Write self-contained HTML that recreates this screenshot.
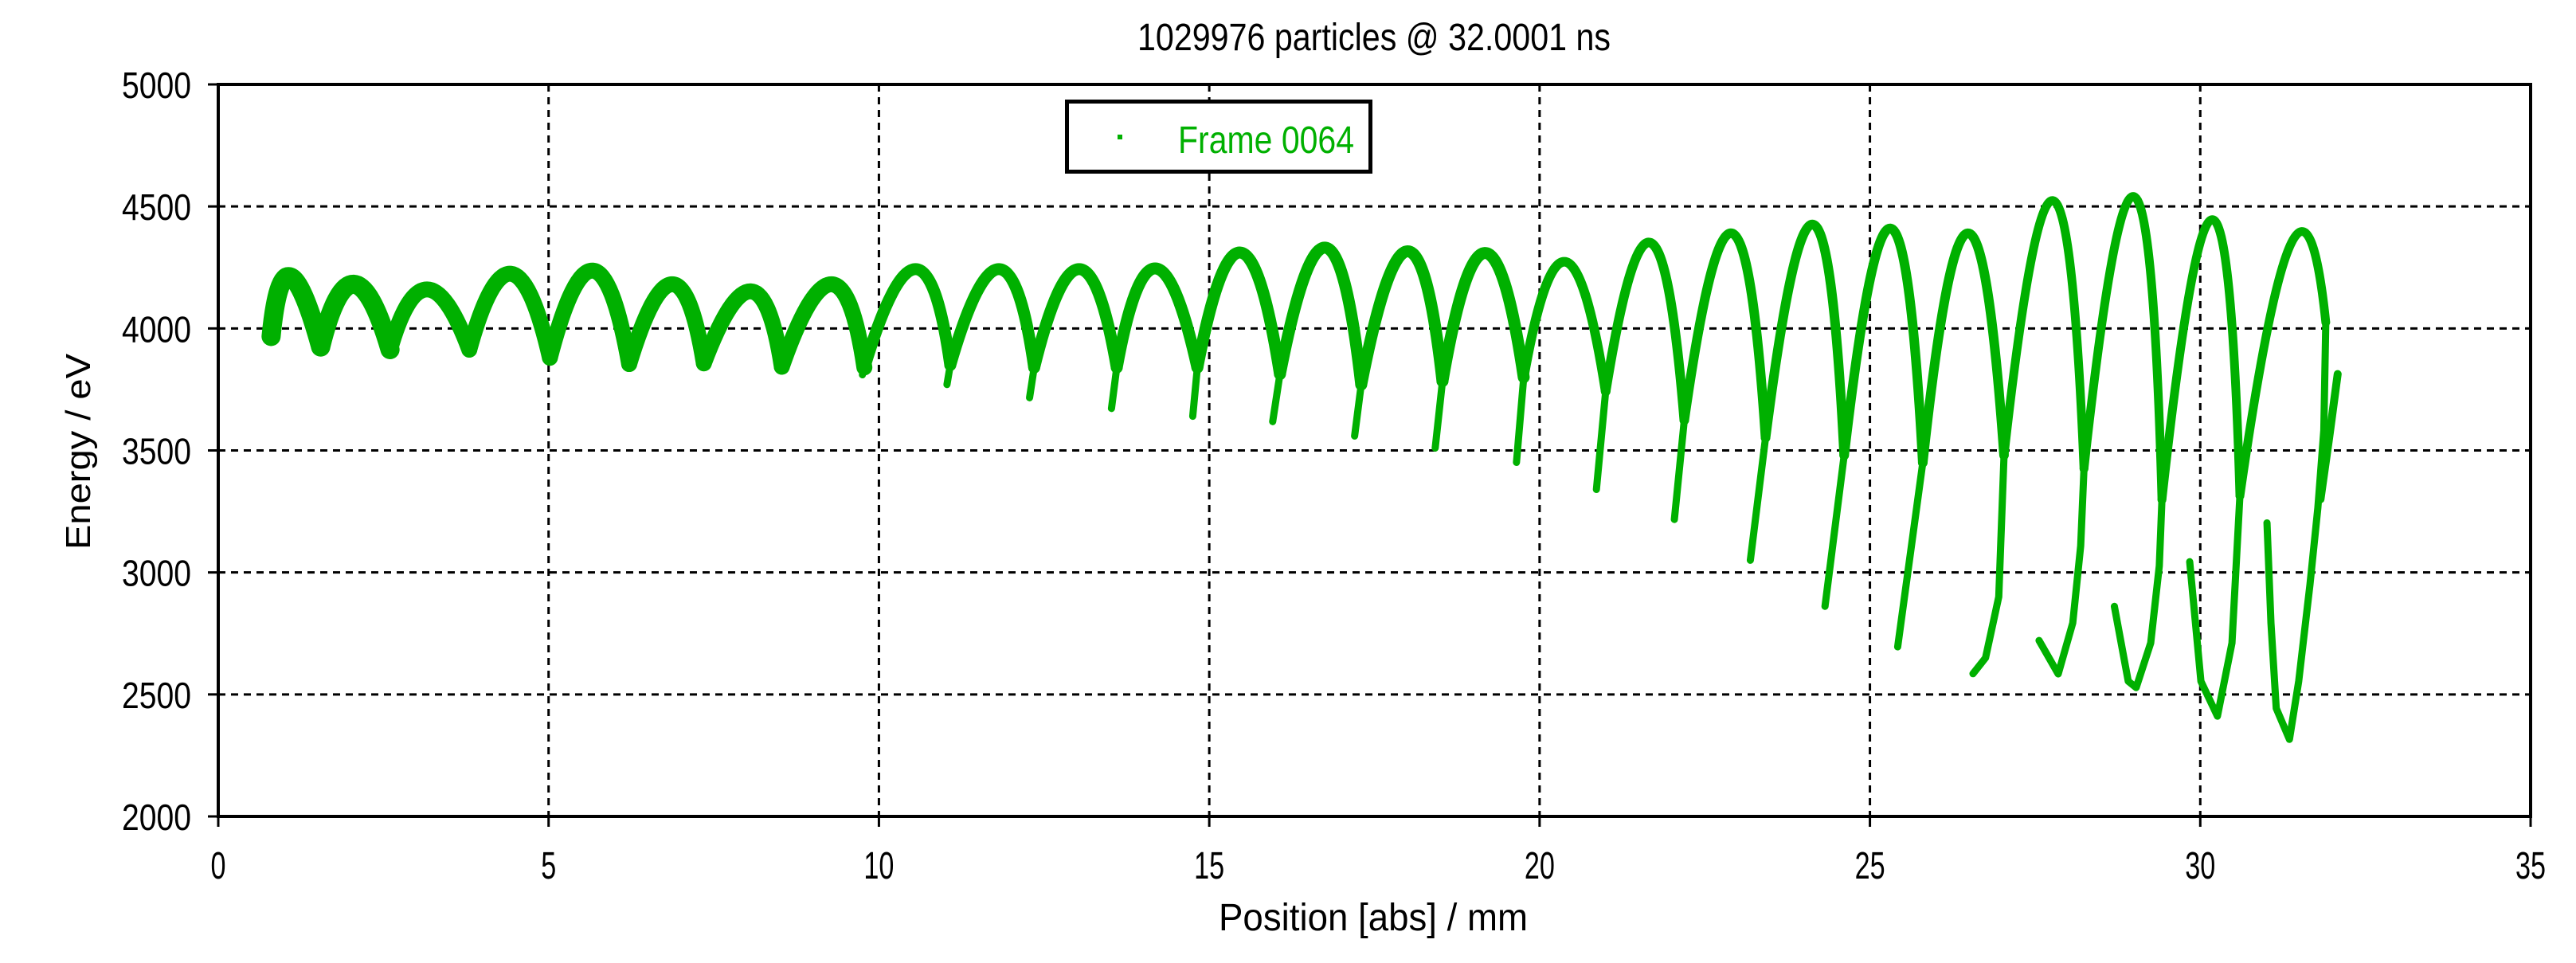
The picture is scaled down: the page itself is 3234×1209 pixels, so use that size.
<!DOCTYPE html>
<html><head><meta charset="utf-8"><style>
html,body{margin:0;padding:0;background:#fff;}
svg{display:block;}
text{font-family:"Liberation Sans",sans-serif;}
</style></head><body>
<svg id="chart" width="3234" height="1209" viewBox="0 0 3234 1209" xmlns="http://www.w3.org/2000/svg">
<rect width="3234" height="1209" fill="#fff"/>
<g id="grid"></g>
<g id="series"></g>
<g id="axes"></g>
<text x="1725" y="63" text-anchor="middle" font-size="48" textLength="594" lengthAdjust="spacingAndGlyphs">1029976 particles @ 32.0001 ns</text>
<text x="1724" y="1168" text-anchor="middle" font-size="48" textLength="388" lengthAdjust="spacingAndGlyphs">Position [abs]  / mm</text>
<text transform="translate(113,567) rotate(-90)" text-anchor="middle" font-size="44" textLength="246" lengthAdjust="spacingAndGlyphs">Energy  / eV</text>
<g>
<rect x="1339.5" y="127.5" width="381" height="88" fill="#fff" stroke="#000" stroke-width="5"/>
<rect x="1403" y="169" width="6" height="6" fill="#00b000"/>
<text x="1479" y="192" font-size="48" fill="#00b000" textLength="221" lengthAdjust="spacingAndGlyphs">Frame 0064</text>
</g>
</svg>
<script>
const xTicks = [0,5,10,15,20,25,30,35];
const yTicks = [2000,2500,3000,3500,4000,4500,5000];
const startX = 0.8, startE = 3967;
const peakX = [1.08,2.05,3.16,4.43,5.67,6.87,8.06,9.28,10.55,11.82,13.03,14.18,15.47,16.76,18.0,19.17,20.39,21.68,22.91,24.14,25.31,26.48,27.77,29.0,30.18,31.38];
const peakE = [4212,4181,4160,4224,4237,4181,4152,4181,4243,4243,4243,4246,4311,4331,4316,4309,4273,4351,4390,4426,4410,4390,4524,4540,4446,4351];
const juncX = [1.55,2.6,3.8,5.02,6.22,7.35,8.53,9.78,11.08,12.35,13.6,14.82,16.07,17.3,18.53,19.76,21.0,22.19,23.42,24.61,25.8,27.03,28.24,29.42,30.6,31.9];
const juncE = [3924,3913,3913,3880,3854,3857,3843,3840,3850,3840,3840,3840,3813,3770,3784,3800,3742,3624,3552,3480,3450,3480,3425,3298,3314,4025];
const tailX = [[],[],[],[],[],[],[],[9.75],[11.03],[12.28],[13.52],[14.75],[15.96],[17.2],[18.42],[19.65],[20.86],[22.04],[23.19],[24.32],[25.42],[26.95,26.75,26.56],
 [28.19,28.07,27.85,27.56],[29.38,29.25,29.03,28.91,28.7],[30.48,30.26,30.01,29.84],[31.87,31.78,31.66,31.49,31.35,31.15,31.07,31.01]];
const tailE = [[],[],[],[],[],[],[],[3810],[3770],[3716],[3672],[3640],[3618],[3559],[3510],[3451],[3340],[3217],[3050],[2861],[2695],[2900,2650,2585],
 [3109,2793,2584,2721],[3027,2711,2528,2554,2861],[2711,2411,2554,3044],[3582,3265,2949,2554,2316,2443,2793,3203]];
const finalX = [31.82,31.95,32.08];
const finalE = [3300,3550,3813];

const X0=274, X1=3177, Y0=1025, Y1=106;
const sx = v => X0 + (v-0)*(X1-X0)/35;
const sy = e => Y0 - (e-2000)*(Y0-Y1)/3000;
const NS="http://www.w3.org/2000/svg";
function mk(tag, attrs, parent){const el=document.createElementNS(NS,tag);for(const k in attrs)el.setAttribute(k,attrs[k]);parent.appendChild(el);return el;}
const grid=document.getElementById('grid'), axes=document.getElementById('axes'), ser=document.getElementById('series');

xTicks.forEach((t,i)=>{
  const x=sx(t);
  if(i>0 && i<xTicks.length-1){
    const g=mk('line',{x1:x,y1:Y1,x2:x,y2:Y0,stroke:'#000','stroke-width':3,'stroke-dasharray':'9 7'},grid);
    
    
  }
  const tk=mk('line',{x1:x,y1:Y0,x2:x,y2:Y0+13,stroke:'#000','stroke-width':3},axes);
  
  
  const s=String(t);
  const lb=mk('text',{x:x,y:1103,'text-anchor':'middle','font-size':48,textLength:s.length*19,lengthAdjust:'spacingAndGlyphs'},axes);
  lb.textContent=s;
  
  
});
yTicks.forEach((t,i)=>{
  const y=sy(t);
  if(i>0 && i<yTicks.length-1){
    const g=mk('line',{x1:X0,y1:y,x2:X1,y2:y,stroke:'#000','stroke-width':3,'stroke-dasharray':'9 7'},grid);
    
    
  }
  const tk=mk('line',{x1:X0-13,y1:y,x2:X0,y2:y,stroke:'#000','stroke-width':3},axes);
  
  
  const lb=mk('text',{x:240,y:y+17,'text-anchor':'end','font-size':46,textLength:87,lengthAdjust:'spacingAndGlyphs'},axes);
  lb.textContent=String(t);
  
  
});
const frame=mk('rect',{x:X0,y:Y1,width:X1-X0,height:Y0-Y1,fill:'none',stroke:'#000','stroke-width':4},axes);



const GREEN='#00b000';
let ax=sx(startX), ay=sy(startE);
for(let i=0;i<peakX.length;i++){
  const px=sx(peakX[i]), py=sy(peakE[i]), bx=sx(juncX[i]), by=sy(juncE[i]);
  const cx=2*px-(ax+bx)/2, cy=2*py-(ay+by)/2;
  const w = peakX[i]<3 ? 24 : (peakX[i]<10 ? 20 : (peakX[i]<20 ? 15 : (peakX[i]<27 ? 12 : 11)));
  const p=mk('path',{d:`M${ax},${ay} Q${cx},${cy} ${bx},${by}`,fill:'none',stroke:GREEN,'stroke-width':w,'stroke-linejoin':'round','stroke-linecap':'round'},ser);
  
  
  if(tailX[i].length){
    let d=`M${bx},${by}`;
    tailX[i].forEach((tx,j)=>{d+=` L${sx(tx)},${sy(tailE[i][j])}`;});
    const t=mk('path',{d:d,fill:'none',stroke:GREEN,'stroke-width':9,'stroke-linejoin':'round','stroke-linecap':'round'},ser);
    
    
  }
  ax=bx; ay=by;
}
let fd='';
finalX.forEach((fx,j)=>{fd+=(j?' L':'M')+sx(fx)+','+sy(finalE[j]);});
const fp=mk('path',{d:fd,fill:'none',stroke:GREEN,'stroke-width':10,'stroke-linecap':'round'},ser);


</script>
</body></html>
